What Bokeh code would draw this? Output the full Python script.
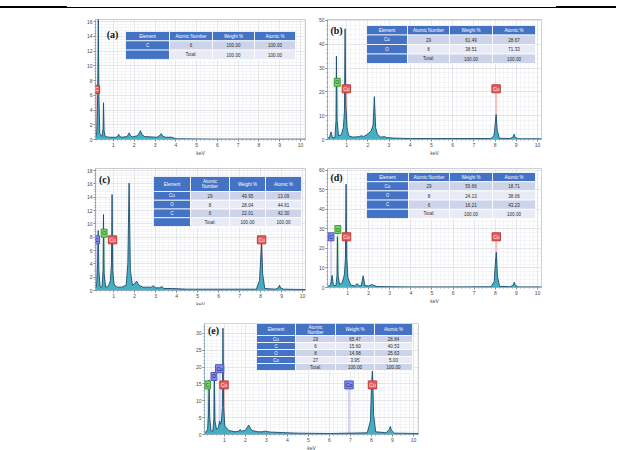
from bokeh.plotting import figure
from bokeh.layouts import column, row
from bokeh.models import Spacer, Label, FixedTicker, Range1d, ColumnDataSource, Div
from bokeh.embed import file_html
from bokeh.resources import INLINE
from bokeh.core.properties import value

# ---------------- data ----------------
x_ticks = [1, 2, 3, 4, 5, 6, 7, 8, 9, 10]

a_kev = [0.14,0.2,0.24,0.27,0.3,0.34,0.45,0.5,0.52,0.55,0.6,0.8,1.1,1.2,1.25,1.3,1.4,1.65,1.72,1.75,1.8,1.9,2.15,2.25,2.3,2.36,2.5,3.1,3.25,3.3,3.35,3.5,3.8,4.0,6.0,8.0,10.24]
a_cps = [0.3,1.0,6.0,16.8,6.0,0.8,0.4,1.5,5.0,1.2,0.4,0.3,0.3,0.4,0.7,0.4,0.3,0.4,0.7,0.9,0.6,0.35,0.5,0.9,1.2,0.7,0.4,0.3,0.6,0.8,0.5,0.3,0.3,0.1,0.05,0.05,0.05]
a_yticks = [0, 2, 4, 6, 8, 10, 12, 14, 16]
a_mark_el = ["C"]
a_mark_kev = [0.2]
a_mark_cps = [6.8]
a_mark_kind = ["red"]
a_head = ["Element", "Atomic Number", "Weight %", "Atomic %"]
a_rows = [["C", "6", "100.00", "100.00"], ["", "Total:", "100.00", "100.00"]]

b_kev = [0.1,0.2,0.27,0.33,0.45,0.5,0.52,0.55,0.62,0.75,0.85,0.9,0.93,0.96,1.02,1.1,1.3,1.6,1.7,1.8,1.95,2.15,2.25,2.31,2.37,2.45,2.6,2.8,2.9,3.2,4.0,6.0,7.8,7.95,8.0,8.05,8.1,8.2,8.7,8.85,8.9,8.95,9.1,10.19]
b_cps = [0.5,1.0,3.2,0.8,0.8,8.0,35.0,8.0,1.5,2.0,5.0,12.0,46.5,15.0,5.0,1.5,1.0,1.2,1.6,1.2,2.0,3.5,6.0,18.0,5.0,2.2,1.0,1.2,0.8,0.6,0.4,0.4,0.4,1.5,6.0,10.5,4.0,0.5,0.4,1.0,2.2,0.9,0.3,0.3]
b_yticks = [0, 10, 20, 30, 40, 50]
b_mark_el = ["O", "Cu", "Cu"]
b_mark_kev = [0.56, 0.99, 8.05]
b_mark_cps = [24.0, 21.3, 21.3]
b_mark_kind = ["green", "red", "red"]
b_head = ["Element", "Atomic Number", "Weight %", "Atomic %"]
b_rows = [["Cu", "29", "61.49", "28.67"], ["O", "8", "38.51", "71.33"], ["", "Total:", "100.00", "100.00"]]

c_kev = [0.14,0.2,0.24,0.27,0.3,0.36,0.45,0.5,0.52,0.55,0.62,0.75,0.85,0.9,0.93,0.96,1.02,1.15,1.4,1.6,1.68,1.74,1.8,1.9,2.0,2.1,2.2,2.4,2.8,2.9,3.0,3.2,3.3,3.4,3.8,4.5,6.0,7.8,7.95,8.0,8.05,8.1,8.2,8.7,8.85,8.9,8.95,9.1,10.14]
c_cps = [0.3,1.0,4.0,9.0,3.0,0.5,0.5,3.0,11.4,2.5,0.5,0.6,1.5,4.0,14.4,3.0,1.0,0.5,0.5,0.8,4.0,16.1,3.0,0.8,1.0,1.4,0.8,0.5,0.5,0.7,0.4,0.4,0.6,0.3,0.3,0.2,0.2,0.2,1.5,4.5,7.0,2.5,0.3,0.2,0.4,0.8,0.4,0.2,0.15]
c_yticks = [0, 2, 4, 6, 8, 10, 12, 14, 16, 18]
c_mark_el = ["C", "O", "Cu", "Cu"]
c_mark_kev = [0.2, 0.55, 0.95, 8.05]
c_mark_cps = [7.6, 8.6, 7.6, 7.6]
c_mark_kind = ["blue", "green", "red", "red"]
c_head = ["Element", "Atomic\nNumber", "Weight %", "Atomic %"]
c_rows = [["Cu", "29", "49.95", "13.09"], ["O", "8", "28.04", "44.61"], ["C", "6", "22.01", "42.30"], ["", "Total:", "100.00", "100.00"]]

d_kev = [0.06,0.2,0.27,0.33,0.45,0.5,0.52,0.55,0.62,0.75,0.85,0.9,0.93,0.96,1.02,1.15,1.35,1.45,1.55,1.65,1.74,1.82,2.0,2.15,2.25,2.4,3.0,4.0,6.0,7.8,7.95,8.0,8.05,8.1,8.2,8.7,8.85,8.9,8.95,9.1,10.19]
d_cps = [0.5,1.5,6.2,1.0,1.0,6.0,26.0,6.0,1.5,2.5,6.5,15.0,53.0,15.0,5.0,1.2,0.8,2.0,0.8,1.0,6.0,1.0,0.8,1.5,1.0,0.5,0.4,0.3,0.3,0.4,3.0,12.0,18.0,6.0,0.6,0.4,1.2,2.7,1.0,0.3,0.3]
d_yticks = [0, 10, 20, 30, 40, 50, 60]
d_mark_el = ["C", "O", "Cu", "Cu"]
d_mark_kev = [0.22, 0.54, 0.95, 8.05]
d_mark_cps = [26.0, 29.7, 26.0, 26.0]
d_mark_kind = ["blue", "green", "red", "red"]
d_head = ["Element", "Atomic Number", "Weight %", "Atomic %"]
d_rows = [["Cu", "29", "59.66", "18.71"], ["O", "8", "24.13", "38.06"], ["C", "6", "16.21", "43.23"], ["", "Total:", "100.00", "100.00"]]

e_kev = [0.06,0.2,0.24,0.27,0.3,0.36,0.45,0.5,0.52,0.55,0.62,0.7,0.76,0.78,0.8,0.85,0.9,0.93,0.96,1.02,1.2,1.5,1.7,1.75,1.8,2.0,2.15,2.3,2.6,2.8,2.9,3.2,3.6,4.5,6.0,7.8,7.95,8.0,8.05,8.1,8.2,8.7,8.85,8.9,8.95,9.1,10.24]
e_cps = [0.4,1.5,6.0,16.2,5.0,1.0,1.0,5.0,18.2,4.0,1.5,2.0,3.6,4.0,3.0,3.5,8.0,31.5,8.0,2.5,1.2,0.8,1.0,1.5,1.0,1.2,2.8,1.2,0.8,0.8,1.0,0.7,0.6,0.4,0.3,0.5,4.0,14.0,19.2,6.0,0.8,0.5,1.5,2.4,1.2,0.4,0.3]
e_yticks = [0, 5, 10, 15, 20, 25, 30]
e_mark_el = ["C", "O", "Co", "Cu", "Co", "Cu"]
e_mark_kev = [0.2, 0.5, 0.77, 0.98, 6.93, 8.05]
e_mark_cps = [14.7, 17.2, 19.5, 14.7, 14.7, 14.7]
e_mark_kind = ["green", "blue", "blue", "red", "blue", "red"]
e_head = ["Element", "Atomic\nNumber", "Weight %", "Atomic %"]
e_rows = [["Cu", "29", "65.47", "28.84"], ["C", "6", "15.60", "40.53"], ["O", "8", "14.98", "25.63"], ["Co", "27", "3.95", "5.00"], ["", "Total:", "100.00", "100.00"]]

# ---------------- styling ----------------
FONT = "Liberation Sans"
MARK_STYLE = {
    "red":   dict(fill="#e4605e", border="#c23b3b", text="#ffe9e9", line="#f2a6a6"),
    "green": dict(fill="#74d66a", border="#3f9a36", text="#1d5418", line="#b0e8a9"),
    "blue":  dict(fill="#8289ea", border="#4f57c4", text="#141a6e", line="#c2c5f5"),
}
HEAD_FILL = "#4472c4"
CELL_A = "#cdd4ea"
CELL_B = "#e8ebf5"


def panel(tag, kev, cps, xr, yr, yticks, mk_el, mk_kev, mk_cps, mk_kind,
          head, rows, cols_px, top_px, hh_px, rh_px, tag_px,
          fw, fh, bl, br, bt, bb):
    p = figure(frame_width=fw, frame_height=fh,
               x_range=Range1d(*xr), y_range=Range1d(*yr),
               output_backend="svg", toolbar_location=None,
               min_border_left=bl, min_border_right=br,
               min_border_top=bt, min_border_bottom=bb)
    p.background_fill_color = "#ffffff"
    p.border_fill_color = "#ffffff"
    p.outline_line_color = "#c9cdd2"

    def dx(rx):
        return xr[0] + rx * (xr[1] - xr[0]) / fw

    def dy(ry):
        return yr[1] - ry * (yr[1] - yr[0]) / fh

    ystep = yticks[1] - yticks[0]
    p.xaxis.ticker = FixedTicker(ticks=x_ticks,
                                 minor_ticks=[i * 0.2 for i in range(0, 53)])
    p.yaxis.ticker = FixedTicker(ticks=yticks,
                                 minor_ticks=[i * ystep / 5 for i in range(0, 5 * len(yticks) + 2)])
    p.xaxis.axis_label = "keV"
    for ax in (p.xaxis, p.yaxis):
        ax.major_label_text_font_size = "5px"
        ax.major_label_text_font = FONT
        ax.major_label_text_color = "#4a4a4a"
        ax.axis_label_text_font_size = "5px"
        ax.axis_label_text_font = FONT
        ax.axis_label_text_font_style = "normal"
        ax.axis_label_text_color = "#4a4a4a"
        ax.axis_label_standoff = 0
        ax.major_label_standoff = 1
        ax.major_tick_out = 2
        ax.major_tick_in = 0
        ax.minor_tick_out = 1
        ax.minor_tick_in = 0
        ax.axis_line_color = "#8fb3c9"
        ax.major_tick_line_color = "#777777"
        ax.minor_tick_line_color = "#9a9a9a"
    p.xgrid.ticker = p.xaxis.ticker
    p.ygrid.ticker = p.yaxis.ticker
    for g in (p.xgrid, p.ygrid):
        g.grid_line_color = "#d4d7db"
        g.grid_line_dash = "1 1"
        g.minor_grid_line_color = "#e9ebee"
        g.minor_grid_line_dash = "1 1"

    for el, x, y, k in zip(mk_el, mk_kev, mk_cps, mk_kind):
        st = MARK_STYLE[k]
        p.segment(x0=x, y0=0, x1=x, y1=y, line_color=st["line"],
                  line_width=2, line_alpha=0.7)

    p.varea(x=kev, y1=0, y2=cps, fill_color="#33a8bc", fill_alpha=0.9)
    p.line(kev, cps, line_color="#1c4d6d", line_width=0.9)

    ncol = len(head)
    q = dict(left=[], right=[], top=[], bottom=[], fill=[])
    t = dict(x=[], y=[], text=[], color=[])
    all_rows = [head] + rows
    for r, cells in enumerate(all_rows):
        if r == 0:
            rt, rb = top_px, top_px + hh_px
        else:
            rt = top_px + hh_px + (r - 1) * rh_px
            rb = rt + rh_px
        for c in range(ncol):
            q["left"].append(dx(cols_px[c]))
            q["right"].append(dx(cols_px[c + 1]))
            q["top"].append(dy(rt))
            q["bottom"].append(dy(rb))
            if r == 0 or c == 0:
                q["fill"].append(HEAD_FILL)
                tc = "#ffffff"
            else:
                q["fill"].append(CELL_A if r % 2 == 1 else CELL_B)
                tc = "#2b2b2b"
            t["x"].append(dx((cols_px[c] + cols_px[c + 1]) / 2))
            t["y"].append(dy((rt + rb) / 2))
            t["text"].append(cells[c])
            t["color"].append(tc)
    p.quad(left="left", right="right", top="top", bottom="bottom",
           fill_color="fill", line_color="#ffffff", line_width=0.8,
           source=ColumnDataSource(q))
    p.text(x="x", y="y", text="text", text_color="color",
           text_font=value(FONT), text_font_size="4.5px",
           text_align="center", text_baseline="middle",
           text_line_height=1.0, source=ColumnDataSource(t))

    for el, x, y, k in zip(mk_el, mk_kev, mk_cps, mk_kind):
        st = MARK_STYLE[k]
        p.add_layout(Label(x=x, y=y, text=el, text_font=FONT,
                           text_font_size="5px", text_align="center",
                           text_baseline="middle", text_color=st["text"],
                           background_fill_color=st["fill"],
                           border_line_color=st["border"], padding=1))

    p.add_layout(Label(x=xr[0], y=yr[1], x_offset=2, y_offset=1,
                       text="CPS/eV", text_font=FONT, text_font_size="4.5px",
                       text_align="left", text_baseline="bottom",
                       text_color="#555555"))
    p.add_layout(Label(x=dx(tag_px[0]), y=dy(tag_px[1]), text="(%s)" % tag,
                       text_font="Liberation Serif", text_font_style="bold",
                       text_font_size="10px", text_align="center",
                       text_baseline="middle", text_color="#111111"))
    return p


pa = panel("a", a_kev, a_cps, (0.135, 10.24), (0, 16.3), a_yticks,
           a_mark_el, a_mark_kev, a_mark_cps, a_mark_kind,
           a_head, a_rows, [30, 74, 117, 159, 200], 12, 9.3, 9.3, (17, 15),
           210, 120, 10, 4, 8, 20)
pb = panel("b", b_kev, b_cps, (0.1, 10.19), (0, 50.4), b_yticks,
           b_mark_el, b_mark_kev, b_mark_cps, b_mark_kind,
           b_head, b_rows, [39, 80, 122, 165, 208], 6, 9.5, 9.5, (9, 11),
           214, 120, 10, 3, 9, 19)
pc = panel("c", c_kev, c_cps, (0.14, 10.14), (0, 18.3), c_yticks,
           c_mark_el, c_mark_kev, c_mark_cps, c_mark_kind,
           c_head, c_rows, [58, 95, 134, 170, 206], 8, 15, 8.75, (9, 11),
           210, 122, 10, 4, 6, 19)
pd = panel("d", d_kev, d_cps, (0.05, 10.19), (0, 61), d_yticks,
           d_mark_el, d_mark_kev, d_mark_cps, d_mark_kind,
           d_head, d_rows, [39, 81, 122, 165, 208], 4, 9.2, 9.2, (9, 9),
           214, 119, 10, 3, 10, 18)
pe = panel("e", e_kev, e_cps, (0.05, 10.24), (0, 32.9), e_yticks,
           e_mark_el, e_mark_kev, e_mark_cps, e_mark_kind,
           e_head, e_rows, [52, 91, 131, 170, 208], 0, 12, 7, (9, 7),
           214, 111, 10, 4, 10, 16)

# top rule of the page (thick - thin - thick)
rule_html = (
    "<div style='position:relative;width:616px;height:10px;'>"
    "<div style='position:absolute;left:0;top:4px;width:67px;height:2px;background:#000;'></div>"
    "<div style='position:absolute;left:67px;top:5px;width:489px;height:1px;background:#000;'></div>"
    "<div style='position:absolute;left:556px;top:4px;width:60px;height:2px;background:#000;'></div>"
    "</div>"
)
rule = Div(text=rule_html, width=616, height=10, margin=0)

layout = column(
    rule,
    row(Spacer(width=83, height=1), pa, Spacer(width=6, height=1), pb),
    row(Spacer(width=83, height=1), pc, Spacer(width=6, height=1), pd),
    Spacer(width=1, height=7),
    row(Spacer(width=192, height=1), pe),
)

open("out.html", "w").write(file_html(layout, INLINE))
